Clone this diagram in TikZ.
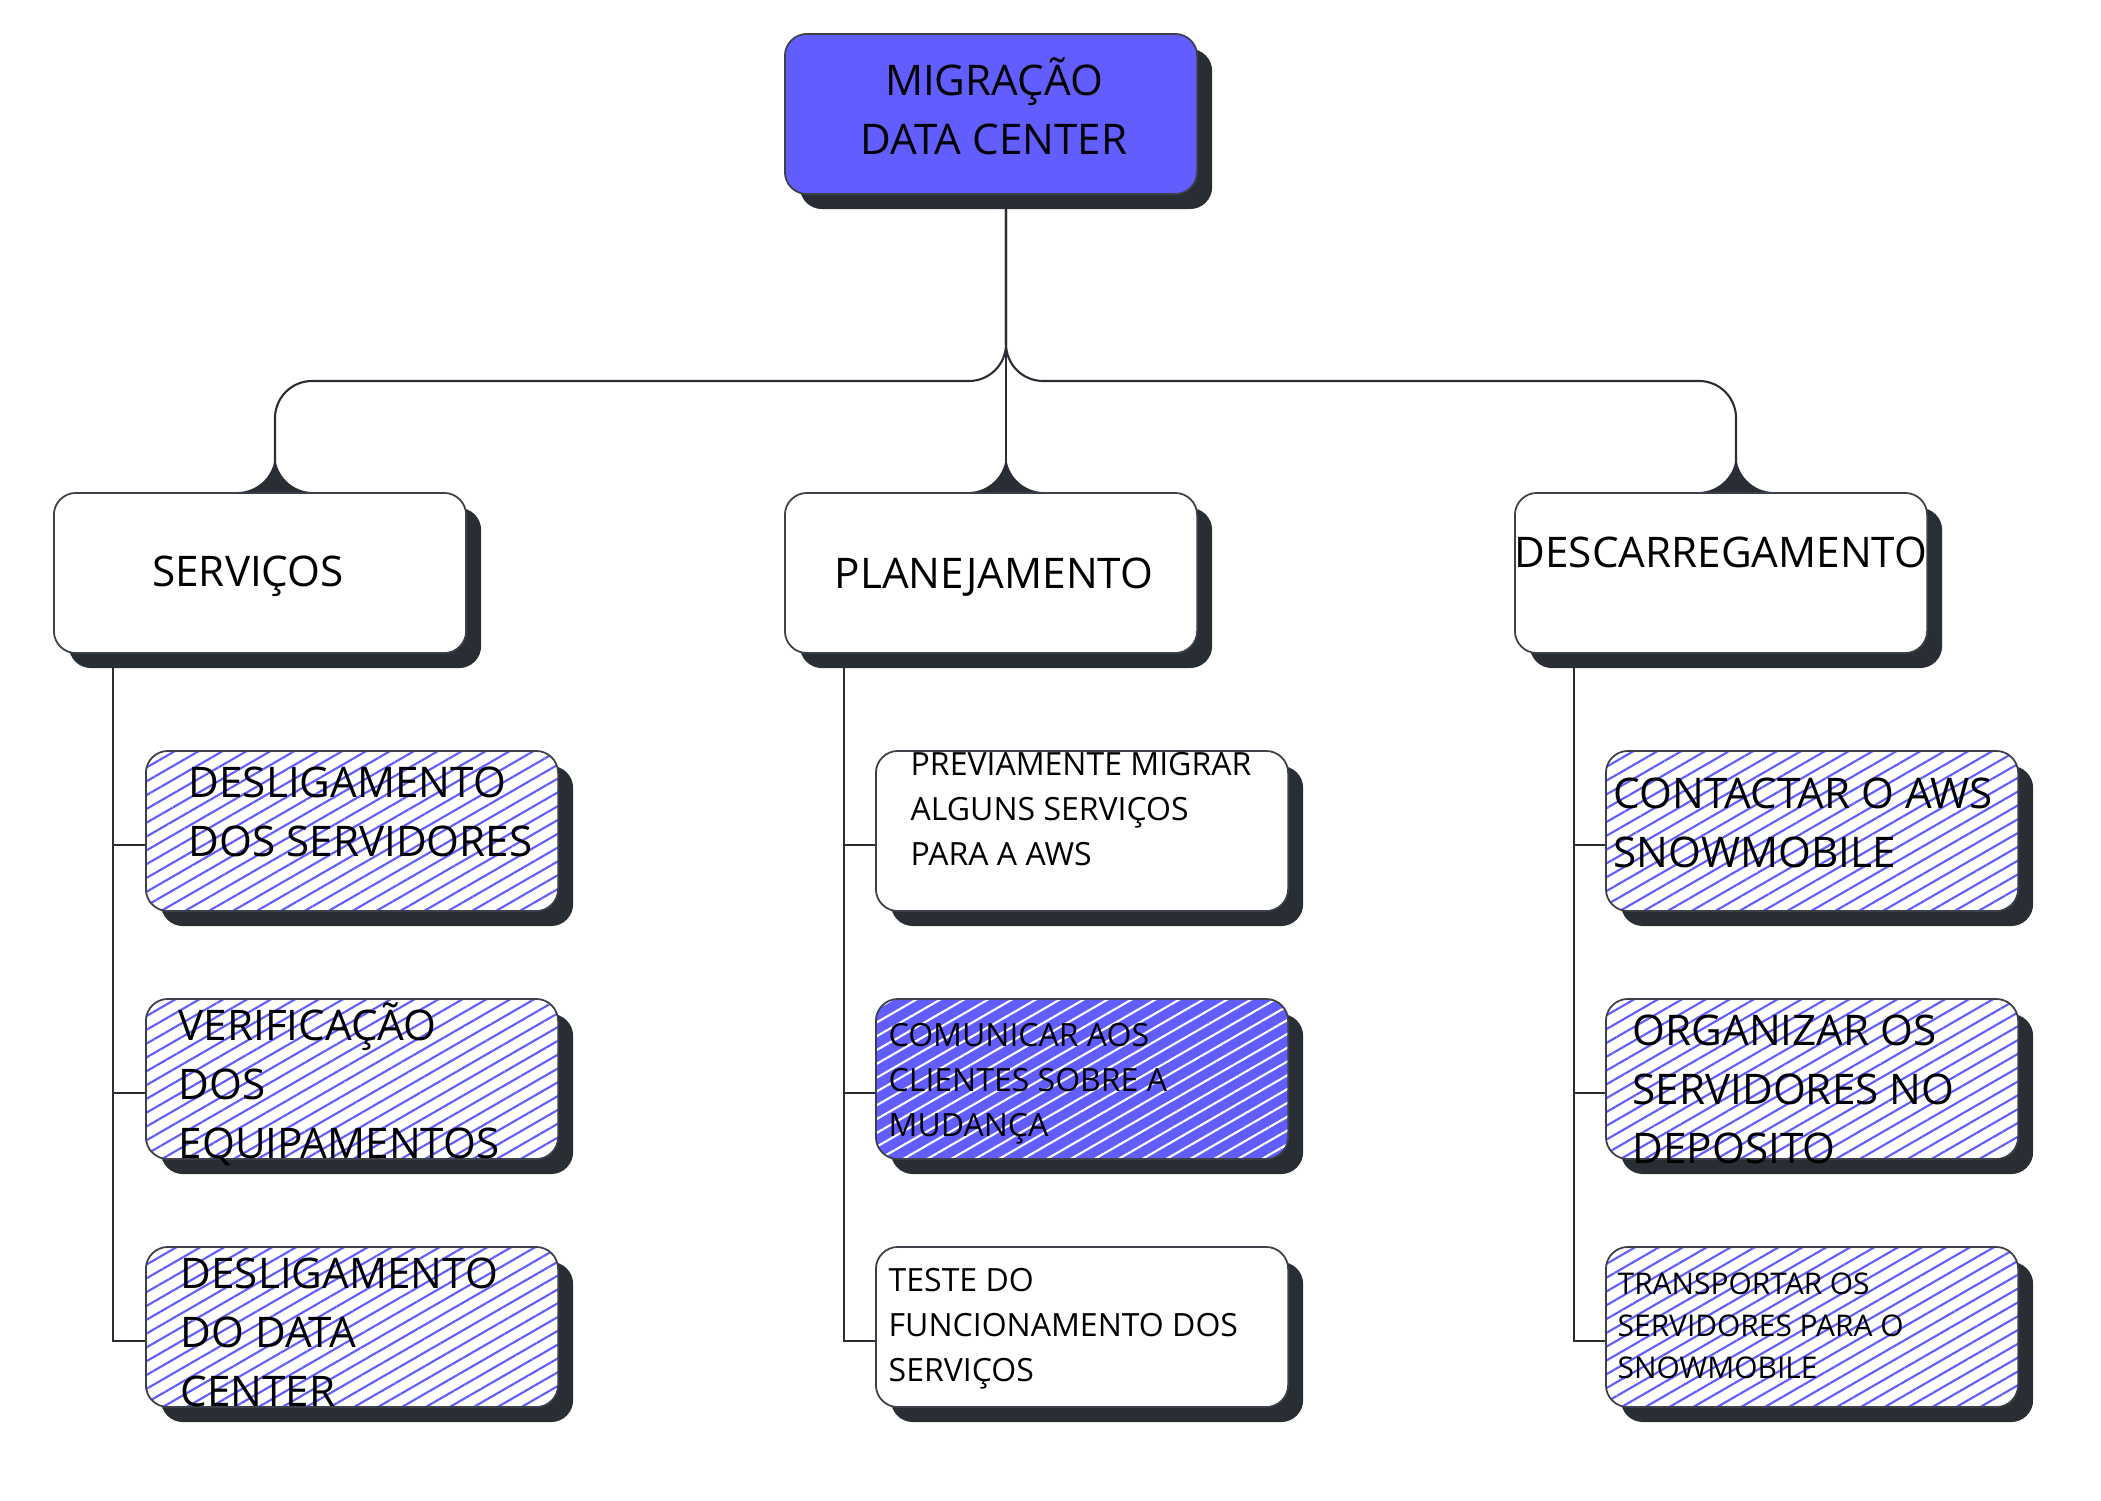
\documentclass[tikz,border=0pt]{standalone}
\usepackage{fontspec}
\setmainfont{Open Sans}
\usetikzlibrary{positioning,shadows,patterns.meta,backgrounds}

\definecolor{mblue}{RGB}{98,93,255}
\definecolor{shadowcol}{RGB}{41,45,52}
\definecolor{edgecol}{RGB}{60,64,72}

\tikzset{
  box/.style={general shadow={fill=shadowcol, shadow xshift=0.15cm, shadow yshift=-0.15cm},
    draw=edgecol, line width=0.5pt, rounded corners=0.22cm,
    minimum width=4.12cm, minimum height=1.6cm, inner sep=0pt},
  plainbox/.style={box, fill=white},
  rootbox/.style={box, fill=mblue},
  hatchbox/.style={box, preaction={fill=white},
    pattern={Lines[angle=30,distance=3.4pt,line width=0.6pt]}, pattern color=mblue},
  darkhatch/.style={box, preaction={fill=mblue},
    pattern={Lines[angle=30,distance=3.4pt,line width=0.6pt]}, pattern color=white},
  big/.style={font=\fontsize{12}{16.8}\selectfont, align=left, inner sep=0pt},
  small/.style={font=\fontsize{9.1}{12.8}\selectfont, align=left, inner sep=0pt},
  tiny/.style={font=\fontsize{8.5}{12}\selectfont, align=left, inner sep=0pt},
  link/.style={draw=shadowcol, line width=0.6pt},
  fillet/.style={fill=shadowcol},
}

\begin{document}
\begin{tikzpicture}[x=0.01cm, y=-0.01cm]
    \useasboundingbox (0,0) rectangle (2101,1501);

    % top of the tree
    \node[rootbox] (root) at (991,114) {};
    \node[big, align=center] (roottext) at (994,106) {MIGRAÇÃO\\DATA CENTER};

    \node[plainbox] (serv) at (260,573) {};
    \node[plainbox] (plan) at (991,573) {};
    \node[plainbox] (desc) at (1721,573) {};
    \node[big] (servtext) at (248,576) {SERVIÇOS};
    \node[big] (plantext) at (994,577) {PLANEJAMENTO};
    \node[big] (desctext) at (1721,552) {DESCARREGAMENTO};

    % children
    \node[hatchbox] (s1) at (352,831) {};
    \node[hatchbox] (s2) at (352,1079) {};
    \node[hatchbox] (s3) at (352,1327) {};
    \node[plainbox] (p1) at (1082,831) {};
    \node[darkhatch] (p2) at (1082,1079) {};
    \node[plainbox] (p3) at (1082,1327) {};
    \node[hatchbox] (d1) at (1812,831) {};
    \node[hatchbox] (d2) at (1812,1079) {};
    \node[hatchbox] (d3) at (1812,1327) {};

    \node[big, anchor=west] (s1text) at (188,812) {DESLIGAMENTO\\DOS SERVIDORES};
    \node[big, anchor=west] (s2text) at (178,1084) {VERIFICAÇÃO\\DOS\\EQUIPAMENTOS};
    \node[big, anchor=west] (s3text) at (180,1332) {DESLIGAMENTO\\DO DATA\\CENTER};
    \node[small, anchor=west] (p1text) at (910,809) {PREVIAMENTE MIGRAR\\ALGUNS SERVIÇOS\\PARA A AWS};
    \node[small, anchor=west] (p2text) at (888,1084) {COMUNICAR AOS\\CLIENTES SOBRE A\\MUDANÇA};
    \node[small, anchor=west] (p3text) at (888,1329) {TESTE DO\\FUNCIONAMENTO DOS\\SERVIÇOS};
    \node[big, anchor=west] (d1text) at (1613,823) {CONTACTAR O AWS\\SNOWMOBILE};
    \node[big, anchor=west] (d2text) at (1632,1089) {ORGANIZAR OS\\SERVIDORES NO\\DEPOSITO};
    \node[tiny, anchor=west] (d3text) at (1617,1326) {TRANSPORTAR OS\\SERVIDORES PARA O\\SNOWMOBILE};

    % connectors
    \coordinate (bar) at (0,381);
    \coordinate (rootc) at ([xshift=0.15cm]root.south);
    \coordinate (servc) at ([xshift=0.15cm]serv.north);
    \coordinate (planc) at ([xshift=0.15cm]plan.north);
    \coordinate (descc) at ([xshift=0.15cm]desc.north);
    \coordinate (servt) at ([xshift=0.6cm]serv.south west);
    \coordinate (plant) at ([xshift=0.6cm]plan.south west);
    \coordinate (desct) at ([xshift=0.6cm]desc.south west);

    \begin{scope}[on background layer]
        \draw[link] (rootc) -- (planc);
        \draw[link, rounded corners=0.37cm] (rootc) -- (rootc |- bar) -- (servc |- bar) -- (servc);
        \draw[link, rounded corners=0.37cm] (rootc) -- (rootc |- bar) -- (descc |- bar) -- (descc);
        \foreach \n in {servc,planc,descc}
            \fill[fillet] ([xshift=-0.38cm]\n) .. controls ([xshift=-0.17cm]\n) and ([yshift=0.17cm]\n)
                .. ([yshift=0.38cm]\n) .. controls ([yshift=0.17cm]\n) and ([xshift=0.17cm]\n)
                .. ([xshift=0.38cm]\n) -- cycle;
        \foreach \c in {1,2,3} {
            \draw[link] (servt) |- ([yshift=-0.14cm]s\c.west);
            \draw[link] (plant) |- ([yshift=-0.14cm]p\c.west);
            \draw[link] (desct) |- ([yshift=-0.14cm]d\c.west);
        }
    \end{scope}
\end{tikzpicture}
\end{document}
